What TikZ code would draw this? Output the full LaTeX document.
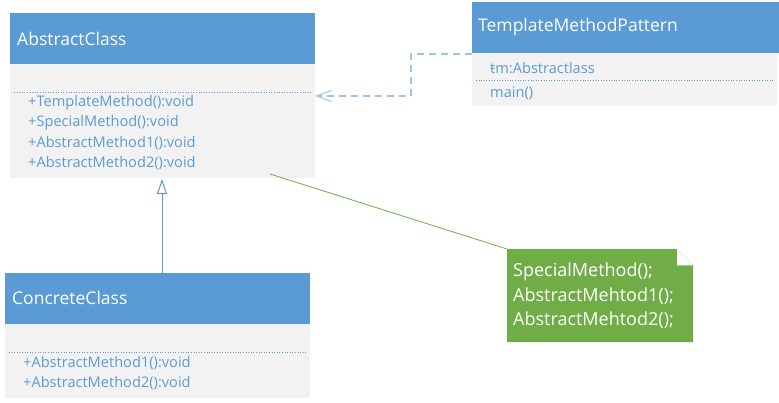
\documentclass[tikz,border=0pt]{standalone}
\usepackage{fontspec}
\setmainfont{Open Sans}
\usetikzlibrary{arrows.meta}
\definecolor{hdr}{HTML}{5B9BD5}
\definecolor{bodyg}{HTML}{F2F2F2}
\definecolor{txtb}{HTML}{5B9BD5}
\definecolor{dashb}{HTML}{9DC3E6}
\definecolor{notegreen}{HTML}{70AD47}
\definecolor{flapline}{HTML}{E2EFDA}
\tikzset{
  hdrtxt/.style={anchor=west,inner sep=0pt,text=white,font=\fontsize{17.5}{21}\selectfont},
  memb/.style={anchor=west,inner sep=0pt,text=txtb,font=\fontsize{14.6}{17}\selectfont},
  notetxt/.style={anchor=west,inner sep=0pt,text=white,font=\fontsize{18}{21}\selectfont},
  sep/.style={draw=txtb,dotted,line width=0.6pt},
}
\begin{document}
\begin{tikzpicture}[x=1pt,y=-1pt]
\useasboundingbox (0,0) rectangle (779,402);
\fill[white] (0,0) rectangle (779,402);
% AbstractClass
\fill[bodyg] (10,64) rectangle (315,178);
\fill[hdr] (10,13) rectangle (315,64);
\node[hdrtxt] (acn) at (17,39) {AbstractClass};
\draw[sep] (14,92) -- (311,92);
\node[memb] (m1) at (28,103) {+TemplateMethod():void};
\node[memb] (m2) at (28,123) {+SpecialMethod():void};
\node[memb] (m3) at (28,143) {+AbstractMethod1():void};
\node[memb] (m4) at (28,163) {+AbstractMethod2():void};
\coordinate (acR) at (315,96);
\coordinate (acB) at (162,178);
\coordinate (acN) at (270,174);
% TemplateMethodPattern
\fill[bodyg] (472,53) rectangle (777,106);
\fill[hdr] (472,2) rectangle (779,53);
\node[hdrtxt] (tmp) at (478,27) {TemplateMethodPattern};
\node[memb] (tm) at (490,68) {ŧm:Abstractlass};
\draw[sep] (476,80) -- (773,80);
\node[memb] (mn) at (490,93) {main()};
\coordinate (tmL) at (472,54);
% ConcreteClass
\fill[bodyg] (5,324) rectangle (310,398);
\fill[hdr] (5,273) rectangle (310,324);
\node[hdrtxt] (ccn) at (12,298) {ConcreteClass};
\draw[sep] (9,352) -- (306,352);
\node[memb] (c1) at (23,363) {+AbstractMethod1():void};
\node[memb] (c2) at (23,383) {+AbstractMethod2():void};
\coordinate (ccT) at (162,273);
% Note
\fill[notegreen] (507,249) -- (677,249) -- (677,265) -- (693,265) -- (693,342) -- (507,342) -- cycle;
\filldraw[fill=white,draw=flapline,line width=0.8pt] (677,249) -- (693,265) -- (677,265);
\node[notetxt] (n1) at (513,272) {SpecialMethod();};
\node[notetxt] (n2) at (513,296) {AbstractMehtod1();};
\node[notetxt] (n3) at (513,320) {AbstractMehtod2();};
\coordinate (noteTL) at (507,249);
% connectors
\draw[dashb,line width=1.2pt,dash pattern=on 7pt off 5pt,-{Straight Barb[length=15pt,width=11pt,line width=1pt]}]
  (tmL) -- (411,54) -- (411,96) -- (acR);
\draw[txtb,line width=1pt,-{Triangle[open,length=15pt,width=10pt,line width=1pt,fill=white]}] (ccT) -- (162,179);
\draw[notegreen,line width=0.8pt] (acN) -- (noteTL);
\end{tikzpicture}
\end{document}
